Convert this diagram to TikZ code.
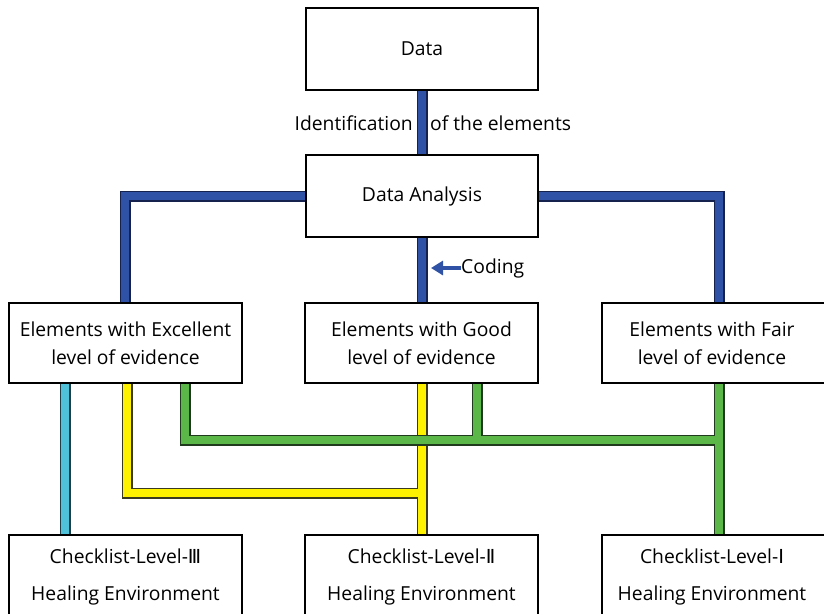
\documentclass[tikz,border=0pt]{standalone}
\usepackage{fontspec}
\setmainfont{Open Sans}
\newfontfamily\dvfont{DejaVu Sans}
\usetikzlibrary{arrows.meta,backgrounds}
\definecolor{barblue}{HTML}{2F52A6}
\definecolor{barblueo}{HTML}{16224E}
\definecolor{baryel}{HTML}{FFF200}
\definecolor{baryelo}{HTML}{3A3A20}
\definecolor{bargreen}{HTML}{5BB848}
\definecolor{bargreeno}{HTML}{1F3A1C}
\definecolor{barcyan}{HTML}{4FC1D9}
\definecolor{barcyano}{HTML}{1F3F48}
\newcommand\padr{\rule{20pt}{0pt}}
\tikzset{
  box/.style={draw=black, line width=2pt, fill=white, align=center, inner sep=0pt,
    font=\fontsize{19.3}{28}\selectfont},
  lowbox/.style={box, font=\fontsize{19.3}{37}\selectfont},
  lbl/.style={inner sep=0pt, font=\fontsize{19.3}{23}\selectfont},
  barline/.style={line width=8pt, draw=#1, line join=miter, line cap=butt},
  baroutline/.style={line width=11pt, draw=#1, line join=miter, line cap=butt},
}
\begin{document}
\begin{tikzpicture}[x=1pt,y=-1pt]
\useasboundingbox (0,0) rectangle (824,613);
% boxes
\node[box, minimum width=232pt, minimum height=82pt] (data) at (422,49) {Data};
\node[box, minimum width=232pt, minimum height=82pt] (da) at (422,196) {Data Analysis};
\node[box, minimum width=233pt, minimum height=80pt] (exc) at (125.5,343) {Elements with Excellent\\level of evidence};
\node[box, minimum width=233pt, minimum height=80pt] (good) at (421.5,343) {Elements with Good\\level of evidence};
\node[box, minimum width=240pt, minimum height=80pt] (fair) at (722,343) {Elements with Fair\padr\\level of evidence\padr};
\node[lowbox, minimum width=233pt, minimum height=84pt] (c3) at (125.5,577) {Checklist-Level-{\dvfont Ⅲ}\\Healing Environment};
\node[lowbox, minimum width=233pt, minimum height=84pt] (c2) at (421.5,577) {Checklist-Level-{\dvfont Ⅱ}\\Healing Environment};
\node[lowbox, minimum width=240pt, minimum height=84pt] (c1) at (722,577) {Checklist-Level-{\dvfont Ⅰ}\padr\\Healing Environment\padr};
% labels
\node[lbl, anchor=east] (idl) at (413,123) {Identification};
\node[lbl, anchor=west] (idr) at (430,123) {of the elements};
\node[lbl, anchor=west] (cod) at (461,268) {Coding};
% x positions
\coordinate (xcy) at (65,0);
\coordinate (xye) at (127,0);
\coordinate (xge) at (185,0);
\coordinate (xbl) at (125,0);
\coordinate (xmid) at (422,0);
\coordinate (xgg) at (477,0);
\coordinate (xfair) at (719,0);
\coordinate (ygr) at (0,440);
\coordinate (yye) at (0,493);
\coordinate (cdend) at (431,268);
\begin{scope}[on background layer]
% blue
\draw[barline=barblue, preaction={baroutline=barblueo}]
  (data.south -| xmid) -- (da.north -| xmid)
  (da.south -| xmid) -- (good.north -| xmid)
  (da.west) -| (exc.north -| xbl)
  (da.east) -| (fair.north -| xfair);
% cyan
\draw[barline=barcyan, preaction={baroutline=barcyano}]
  (exc.south -| xcy) -- (c3.north -| xcy);
% yellow
\draw[barline=baryel, preaction={baroutline=baryelo}]
  (exc.south -| xye) |- (yye -| xmid)
  (good.south -| xmid) -- (c2.north -| xmid);
% green
\draw[barline=bargreen, preaction={baroutline=bargreeno}]
  (exc.south -| xge) |- (ygr -| xfair)
  (good.south -| xgg) -- (ygr -| xgg)
  (fair.south -| xfair) -- (c1.north -| xfair);
\end{scope}
% coding arrow
\draw[barblue, line width=4.5pt, -{Triangle[length=12pt,width=14pt]}] (cod.west) -- (cdend);
\end{tikzpicture}
\end{document}
